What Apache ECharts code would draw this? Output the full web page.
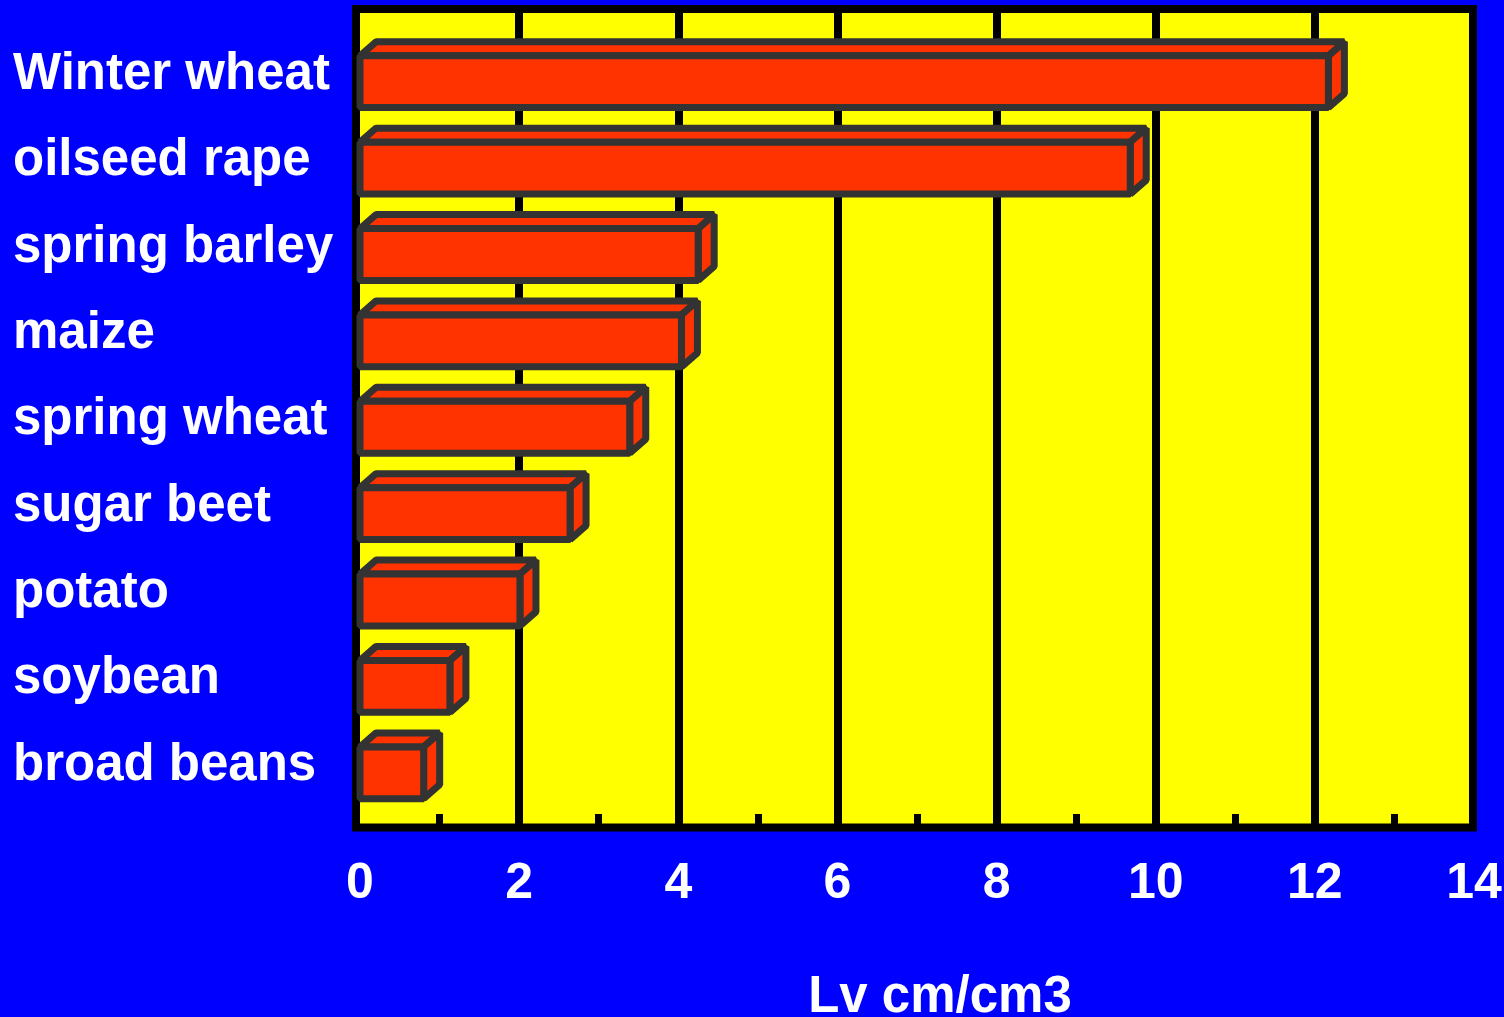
<!DOCTYPE html>
<html>
<head>
<meta charset="utf-8">
<title>Lv cm/cm3</title>
<script src="https://cdn.jsdelivr.net/npm/echarts@6/dist/echarts.min.js"></script>
<style>
  html, body { margin: 0; padding: 0; background: #0000ff; }
  #chart { width: 1504px; height: 1017px; }
</style>
</head>
<body>
<div id="chart"></div>
<script>
// Root length density per crop
const crops = ['Winter wheat', 'oilseed rape', 'spring barley', 'maize', 'spring wheat',
               'sugar beet', 'potato', 'soybean', 'broad beans'];
const rootDensity = [12.17, 9.68, 4.25, 4.04, 3.39, 2.64, 2.01, 1.13, 0.80];
const xTicks = [0, 2, 4, 6, 8, 10, 12, 14];
const axisTitle = 'Lv cm/cm3';

const FONT = "'Liberation Sans', Arial, Helvetica, sans-serif";
const DX = 16;   // oblique depth of the boxes, horizontal
const DY = 14;   // oblique depth of the boxes, vertical

function renderBox(params, api) {
  const v = api.value(0);
  const c = api.value(1);
  const start = api.coord([0, c]);
  const end = api.coord([v, c]);
  const h = api.size([0, 1])[1] * 0.6;
  const top = start[1] - h / 2 + DY / 2;
  const x0 = start[0];
  const x1 = end[0];
  const st = () => ({ fill: '#ff3300', stroke: '#333333', lineWidth: 7, lineJoin: 'bevel' });
  return {
    type: 'group',
    children: [
      { type: 'polygon', shape: { points: [[x0, top], [x0 + DX, top - DY], [x1 + DX, top - DY], [x1, top]] }, style: st() },
      { type: 'polygon', shape: { points: [[x1, top], [x1 + DX, top - DY], [x1 + DX, top + h - DY], [x1, top + h]] }, style: st() },
      { type: 'rect', shape: { x: x0, y: top, width: x1 - x0, height: h }, style: st() }
    ]
  };
}

const chart = echarts.init(document.getElementById('chart'), null, { renderer: 'canvas' });

const xMin = xTicks[0];
const xMax = xTicks[xTicks.length - 1];
const xStep = xTicks[1] - xTicks[0];

chart.setOption({
  backgroundColor: '#0000ff',
  animation: false,
  grid: [
    // framed plot panel
    { left: 356, right: 31, top: 9, bottom: 189.5, show: true, backgroundColor: '#ffff00',
      borderColor: '#000000', borderWidth: 8, outerBoundsMode: 'none', containLabel: false },
    // value scale with full-height grid lines
    { left: 360, right: 30, top: 13, bottom: 193, outerBoundsMode: 'none', containLabel: false },
    // crop rows
    { left: 360, right: 30, top: 31.5, bottom: 208, outerBoundsMode: 'none', containLabel: false }
  ],
  xAxis: [
    { gridIndex: 0, type: 'value', show: false, min: 0, max: 1 },
    {
      gridIndex: 1, type: 'value', min: xMin, max: xMax, interval: xStep,
      axisLine: { show: false },
      axisTick: { show: false, inside: true },
      minorTick: { show: true, splitNumber: 2, length: 10, lineStyle: { color: '#000000', width: 7 } },
      splitLine: { show: true, showMinLine: false, showMaxLine: false, lineStyle: { color: '#000000', width: 8 } },
      minorSplitLine: { show: false },
      axisLabel: { color: '#ffffff', fontSize: 50, fontWeight: 'bold', fontFamily: FONT, margin: 35,
                   showMinLabel: true, showMaxLabel: true },
      name: axisTitle,
      nameLocation: 'middle',
      nameGap: 148,
      nameTextStyle: { color: '#ffffff', fontSize: 51, fontWeight: 'bold', fontFamily: FONT, padding: [0, 0, 0, 46] }
    },
    { gridIndex: 2, type: 'value', show: false, min: xMin, max: xMax, interval: xStep }
  ],
  yAxis: [
    { gridIndex: 0, type: 'value', show: false, min: 0, max: 1 },
    { gridIndex: 1, type: 'value', show: false, min: 0, max: 1 },
    {
      gridIndex: 2, type: 'category', data: crops, inverse: true,
      axisLine: { show: false },
      axisTick: { show: false },
      splitLine: { show: false },
      axisLabel: { interval: 0, align: 'left', margin: 347, color: '#ffffff', fontSize: 51,
                   fontWeight: 'bold', fontFamily: FONT }
    }
  ],
  series: [{
    type: 'custom',
    xAxisIndex: 2,
    yAxisIndex: 2,
    renderItem: renderBox,
    encode: { x: 0, y: 1 },
    data: rootDensity.map((v, i) => [v, i]),
    clip: false
  }]
});
</script>
</body>
</html>
